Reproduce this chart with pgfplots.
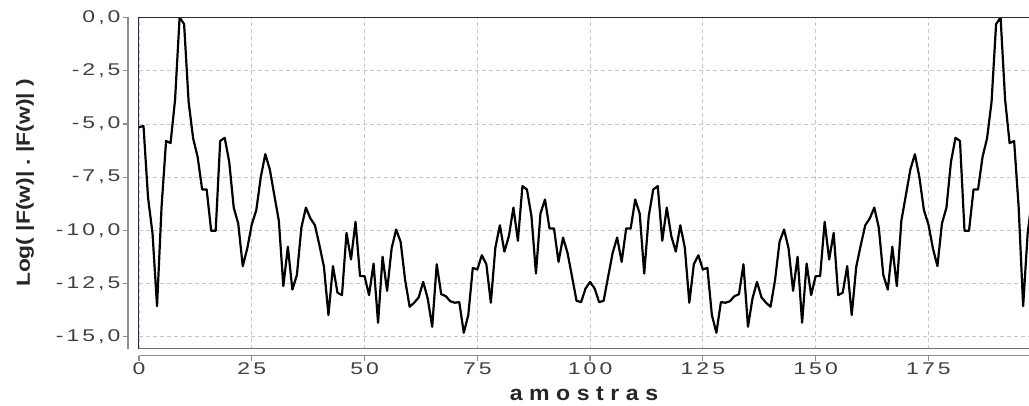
\documentclass[border=0pt]{standalone}
\usepackage{pgfplots}
\pgfplotsset{compat=1.18}
\usepackage{fontspec}
\setmainfont{Liberation Sans}
\newfontfamily\tickfont[FakeStretch=1.35, LetterSpace=18]{Liberation Sans}
\newfontfamily\xlabfont[FakeStretch=1.1, LetterSpace=31]{Liberation Sans}
\newfontfamily\ylabfont[FakeStretch=1.2]{Liberation Sans}
\definecolor{gridc}{RGB}{200,200,200}
\definecolor{axc}{RGB}{140,140,140}
\definecolor{edgec}{RGB}{45,45,45}
\definecolor{leftc}{RGB}{40,40,90}
\begin{document}
\begin{tikzpicture}
\path[use as bounding box] (-139bp,-57.5bp) rectangle (890bp,348.5bp);
\begin{axis}[
  at={(0,0)}, anchor=south west,
  scale only axis, width=890bp, height=331bp,
  xmin=0, xmax=197.3, ymin=-15.55, ymax=0,
  axis line style={draw=none},
  clip mode=individual,
  xtick={0,25,50,75,100,125,150,175},
  ytick={-15,-12.5,-10,-7.5,-5,-2.5,0},
  yticklabels={{-15,0},{-12,5},{-10,0},{-7,5},{-5,0},{-2,5},{0,0}},
  xtick pos=left, ytick pos=left,
  tick align=outside, major tick length=5bp,
  xtick style={draw=axc, line width=1.2bp, yshift=-7bp},
  ytick style={draw=axc, line width=1.2bp, xshift=-11bp},
  xticklabel style={font=\tickfont\fontsize{17bp}{19bp}\selectfont, text=black!75, yshift=-6bp},
  yticklabel style={font=\tickfont\fontsize{17bp}{19bp}\selectfont, text=black!75, xshift=-10bp},
  /pgf/number format/assume math mode=true,
  grid=major,
  grid style={draw=gridc, line width=0.8bp, dash pattern=on 4bp off 3bp},
  xlabel={amostras},
  ylabel={Log(\ |F(w)|\ .\ |F(w)|\ )},
  xlabel style={at={(axis description cs:0.5,-0.1556)}, anchor=base, font=\xlabfont\bfseries\fontsize{21bp}{23bp}\selectfont, text=black!85},
  ylabel style={at={(axis description cs:-0.128,0.5)}, anchor=center, font=\ylabfont\bfseries\fontsize{19bp}{21bp}\selectfont, text=black!85},
]
\addplot[black, line width=2.2bp, line join=round] coordinates {
(0,-5.15) (1,-5.1) (2,-8.45) (3,-10.15) (4,-13.56) (5,-8.9) (6,-5.8) (7,-5.9) (8,-3.85) (9,0.0)
(10,-0.31) (11,-3.96) (12,-5.68) (13,-6.55) (14,-8.08) (15,-8.08) (16,-10.02) (17,-10.02) (18,-5.8) (19,-5.65)
(20,-6.78) (21,-8.93) (22,-9.68) (23,-11.68) (24,-10.85) (25,-9.72) (26,-9.05) (27,-7.5) (28,-6.42) (29,-7.14)
(30,-8.35) (31,-9.55) (32,-12.62) (33,-10.77) (34,-12.78) (35,-12.1) (36,-9.87) (37,-8.93) (38,-9.44) (39,-9.76)
(40,-10.7) (41,-11.71) (42,-13.98) (43,-11.68) (44,-12.93) (45,-13.04) (46,-10.12) (47,-11.37) (48,-9.6) (49,-12.15)
(50,-12.15) (51,-13.04) (52,-11.56) (53,-14.34) (54,-11.24) (55,-12.84) (56,-10.85) (57,-9.96) (58,-10.54) (59,-12.34)
(60,-13.59) (61,-13.4) (62,-13.15) (63,-12.42) (64,-13.2) (65,-14.53) (66,-11.59) (67,-13.0) (68,-13.09) (69,-13.33)
(70,-13.4) (71,-13.37) (72,-14.81) (73,-13.98) (74,-11.76) (75,-11.84) (76,-11.17) (77,-11.59) (78,-13.4) (79,-10.81)
(80,-9.76) (81,-11.0) (82,-10.27) (83,-8.93) (84,-10.49) (85,-7.92) (86,-8.08) (87,-9.33) (88,-12.03) (89,-9.21)
(90,-8.55) (91,-9.91) (92,-9.91) (93,-11.48) (94,-10.34) (95,-11.06) (96,-12.18) (97,-13.31) (98,-13.37) (99,-12.73)
(100,-12.42) (101,-12.73) (102,-13.37) (103,-13.31) (104,-12.18) (105,-11.06) (106,-10.34) (107,-11.48) (108,-9.91) (109,-9.91)
(110,-8.55) (111,-9.21) (112,-12.03) (113,-9.33) (114,-8.08) (115,-7.92) (116,-10.49) (117,-8.93) (118,-10.27) (119,-11.0)
(120,-9.76) (121,-10.81) (122,-13.4) (123,-11.59) (124,-11.17) (125,-11.84) (126,-11.76) (127,-13.98) (128,-14.81) (129,-13.37)
(130,-13.4) (131,-13.33) (132,-13.09) (133,-13.0) (134,-11.59) (135,-14.53) (136,-13.2) (137,-12.42) (138,-13.15) (139,-13.4)
(140,-13.59) (141,-12.34) (142,-10.54) (143,-9.96) (144,-10.85) (145,-12.84) (146,-11.24) (147,-14.34) (148,-11.56) (149,-13.04)
(150,-12.15) (151,-12.15) (152,-9.6) (153,-11.37) (154,-10.12) (155,-13.04) (156,-12.93) (157,-11.68) (158,-13.98) (159,-11.71)
(160,-10.7) (161,-9.76) (162,-9.44) (163,-8.93) (164,-9.87) (165,-12.1) (166,-12.78) (167,-10.77) (168,-12.62) (169,-9.55)
(170,-8.35) (171,-7.14) (172,-6.42) (173,-7.5) (174,-9.05) (175,-9.72) (176,-10.85) (177,-11.68) (178,-9.68) (179,-8.93)
(180,-6.78) (181,-5.65) (182,-5.8) (183,-10.02) (184,-10.02) (185,-8.08) (186,-8.08) (187,-6.55) (188,-5.68) (189,-3.96)
(190,-0.31) (191,0.0) (192,-3.85) (193,-5.9) (194,-5.8) (195,-8.9) (196,-13.56) (197,-10.15) (198,-8.45)
};
\draw[edgec, line width=1bp] (rel axis cs:0,1) -- (rel axis cs:1,1);
\draw[axc!80!black, line width=1.5bp] (rel axis cs:0,0) -- (rel axis cs:1,0);
\draw[leftc, line width=1bp] (rel axis cs:0,0) -- (rel axis cs:0,1);
\begin{scope}[yshift=-7bp]
\draw[axc, line width=1.6bp] (rel axis cs:0,0) -- (rel axis cs:1,0);
\end{scope}
\begin{scope}[xshift=-11bp]
\draw[axc, line width=1.6bp] (rel axis cs:0,0) -- (rel axis cs:0,1);
\end{scope}
\end{axis}
\end{tikzpicture}
\end{document}
